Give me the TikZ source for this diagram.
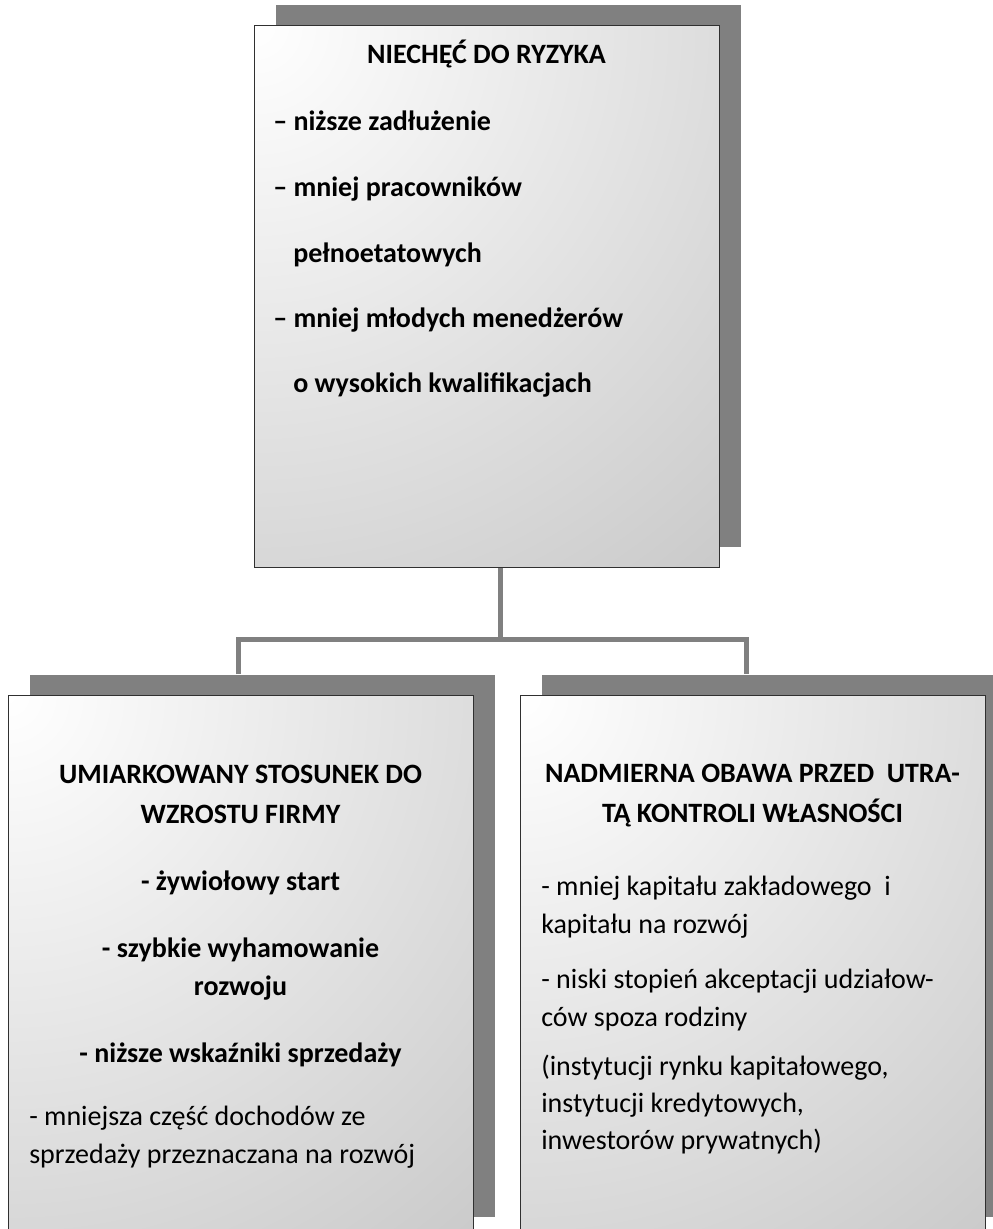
\documentclass[tikz,border=0pt]{standalone}
\usepackage{fontspec}
\setmainfont{Carlito}
\usetikzlibrary{shadows}
\definecolor{boxgray}{HTML}{C0C0C0}
\definecolor{shadegray}{HTML}{808080}
\definecolor{edge}{HTML}{303030}

\begin{document}
\begin{tikzpicture}[x=0.75pt,y=-0.75pt,
  panel/.style={draw=edge, line width=1.1pt, anchor=north west, inner sep=0pt,
    minimum width=348.75pt, minimum height=406.5pt,
    general shadow={fill=shadegray, shadow xshift=15.75pt, shadow yshift=15.75pt},
    path picture={\shade[inner color=white, outer color=boxgray]
      (path picture bounding box.north west) circle (640pt);}},
  conn/.style={draw=shadegray, line width=3.75pt, line join=miter},
  bt/.style={font=\fontsize{21}{21}\selectfont\bfseries, inner sep=0pt},
  rt/.style={font=\fontsize{21}{21}\selectfont, inner sep=0pt}]

\path[use as bounding box] (0,0) rectangle (993,1229);
\clip (0,0) rectangle (993,1229);

% panels
\node[panel] (top)   at (254,25)  {};
\node[panel] (left)  at (8,695)   {};
\node[panel] (right) at (520,695) {};

% tree connectors
\coordinate (bus)  at (500,639);
\coordinate (lend) at (238,674);
\coordinate (rend) at (746,674);
\draw[conn] (bus |- top.south) -- (bus);
\draw[conn] (lend) |- (bus) -| (rend);

% top panel text
\node[bt, anchor=base]      (t0) at (486.5,63) {NIECHĘĆ DO RYZYKA};
\node[bt, anchor=base west] (t1) at (273,130) {– niższe zadłużenie};
\node[bt, anchor=base west] (t2) at (273,196) {– mniej pracowników};
\node[bt, anchor=base west] (t3) at (293,262) {pełnoetatowych};
\node[bt, anchor=base west] (t4) at (273,327) {– mniej młodych menedżerów};
\node[bt, anchor=base west] (t5) at (293,392) {o wysokich kwalifikacjach};

% left panel text
\node[bt, anchor=base] (l0) at (240.5,783)  {UMIARKOWANY STOSUNEK DO};
\node[bt, anchor=base] (l1) at (240.5,823)  {WZROSTU FIRMY};
\node[bt, anchor=base] (l2) at (240.5,890)  {- żywiołowy start};
\node[bt, anchor=base] (l3) at (240.5,957)  {- szybkie wyhamowanie};
\node[bt, anchor=base] (l4) at (240.5,995)  {rozwoju};
\node[bt, anchor=base] (l5) at (240.5,1062) {- niższe wskaźniki sprzedaży};
\node[rt, anchor=base west] (l6) at (29,1125) {- mniejsza część dochodów ze};
\node[rt, anchor=base west] (l7) at (29,1163) {sprzedaży przeznaczana na rozwój};

% right panel text
\node[bt, anchor=base] (r0) at (752.5,782) {NADMIERNA OBAWA PRZED\ \ UTRA-};
\node[bt, anchor=base] (r1) at (752.5,822) {TĄ KONTROLI WŁASNOŚCI};
\node[rt, anchor=base west] (r2) at (541,895)  {- mniej kapitału zakładowego\ \ i};
\node[rt, anchor=base west] (r3) at (541,933)  {kapitału na rozwój};
\node[rt, anchor=base west] (r4) at (541,988)  {- niski stopień akceptacji udziałow-};
\node[rt, anchor=base west] (r5) at (541,1026) {ców spoza rodziny};
\node[rt, anchor=base west] (r6) at (541,1075) {(instytucji rynku kapitałowego,};
\node[rt, anchor=base west] (r7) at (541,1112) {instytucji kredytowych,};
\node[rt, anchor=base west] (r8) at (541,1149) {inwestorów prywatnych)};
\end{tikzpicture}
\end{document}
